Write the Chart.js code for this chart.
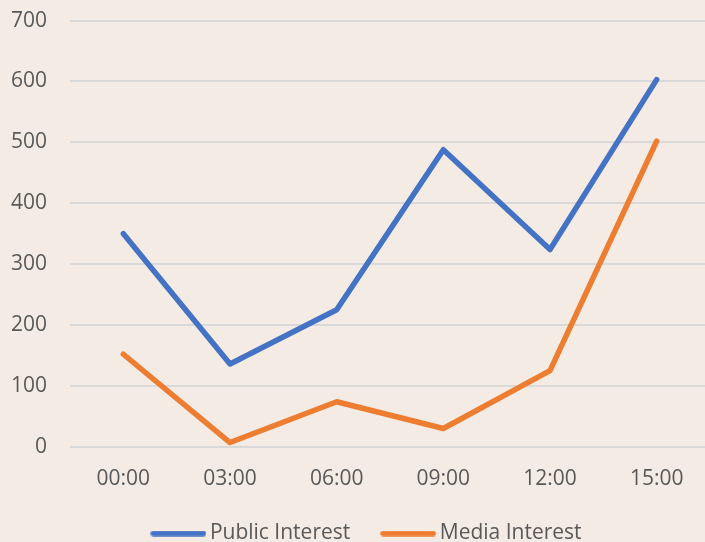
<!DOCTYPE html>
<html>
<head>
<meta charset="utf-8">
<script src="https://cdn.jsdelivr.net/npm/chart.js@4"></script>
<style>
  html, body { margin: 0; padding: 0; background: #f4ebe5; overflow: hidden; }
  #wrap { width: 732px; height: 587px; margin-left: -22px; margin-top: -15px; }
</style>
</head>
<body>
<div id="wrap"><canvas id="lineChart"></canvas></div>
<script>
// data
const hours = ["00:00", "03:00", "06:00", "09:00", "12:00", "15:00"];
const publicInterest = [350, 136, 225, 488, 324, 603];
const mediaInterest = [152, 7, 74, 30, 125, 502];

const blue = "#4472c4";
const orange = "#ed7d31";
const font = { family: "'Open Sans', sans-serif", size: 21 };

// legend swatch: a thick rounded line, drawn once on a small canvas
function swatch(color) {
  const c = document.createElement("canvas");
  c.width = 56;
  c.height = 6;
  const g = c.getContext("2d");
  g.strokeStyle = color;
  g.lineWidth = 5.5;
  g.lineCap = "round";
  g.beginPath();
  g.moveTo(3, 3);
  g.lineTo(53, 3);
  g.stroke();
  return c;
}

// move the legend a bit, like in the original
const legendShift = {
  id: "legendShift",
  afterLayout(chart) {
    chart.legend.left += 41;
    chart.legend.top -= 18;
  }
};

const ctx = document.getElementById("lineChart");

new Chart(ctx, {
  type: "line",
  data: {
    labels: hours,
    datasets: [
      {
        label: "Public Interest",
        data: publicInterest,
        borderColor: blue,
        backgroundColor: blue,
        borderWidth: 5.5,
        borderCapStyle: "round",
        borderJoinStyle: "round",
        pointRadius: 0,
        pointStyle: swatch(blue),
        tension: 0
      },
      {
        label: "Media Interest",
        data: mediaInterest,
        borderColor: orange,
        backgroundColor: orange,
        borderWidth: 5.5,
        borderCapStyle: "round",
        borderJoinStyle: "round",
        pointRadius: 0,
        pointStyle: swatch(orange),
        tension: 0
      }
    ]
  },
  plugins: [legendShift],
  options: {
    responsive: true,
    maintainAspectRatio: false,
    animation: false,
    layout: { padding: { left: 10, right: 0, top: 8, bottom: 0 } },
    plugins: {
      legend: {
        position: "bottom",
        labels: {
          usePointStyle: true,
          pointStyleWidth: 42,
          padding: 37,
          color: "#595959",
          font: font
        }
      },
      tooltip: { enabled: false }
    },
    scales: {
      x: {
        offset: true,
        grid: { display: false },
        border: { display: false },
        ticks: {
          color: "#595959",
          padding: 12,
          font: font
        }
      },
      y: {
        min: 0,
        max: 700,
        grid: { color: "#d9d9d9", lineWidth: 2, drawTicks: false },
        border: { display: false },
        ticks: {
          stepSize: 100,
          color: "#595959",
          padding: 23,
          font: font
        }
      }
    }
  }
});
</script>
</body>
</html>
